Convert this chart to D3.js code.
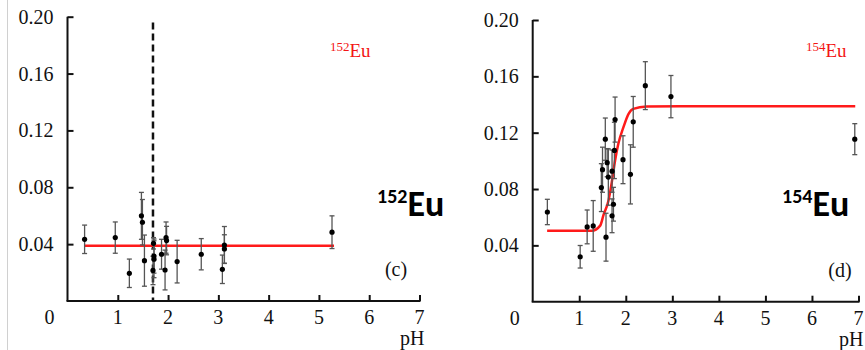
<!DOCTYPE html>
<html>
<head>
<meta charset="utf-8">
<script src="https://cdn.jsdelivr.net/npm/d3@7"></script>
<style>
    body { margin: 0; background: #fff; }
    svg { display: block; }
</style>
</head>
<body>
<svg id="chart" width="865" height="350"></svg>
<script>
// panel (c) 152Eu
let phC   = [0.34, 0.95, 1.23, 1.47, 1.49, 1.53, 1.71, 1.72, 1.72, 1.70, 1.87, 1.94, 1.96, 1.97, 2.18, 2.66, 3.08, 3.12, 3.12, 5.26];
let valC  = [0.0434, 0.0446, 0.0195, 0.0599, 0.0554, 0.0284, 0.0406, 0.0316, 0.0294, 0.0215, 0.0329, 0.0218, 0.0446, 0.0425, 0.0277, 0.0329, 0.0223, 0.0394, 0.0366, 0.0484];
let errC  = [0.0100, 0.0110, 0.0100, 0.0165, 0.0160, 0.0180, 0.0040, 0.0120, 0.0130, 0.0100, 0.0105, 0.0140, 0.0110, 0.0100, 0.0150, 0.0110, 0.0100, 0.0130, 0.0100, 0.0115];
let fitC_ph  = [0.34, 5.30];
let fitC_val = [0.0388, 0.0388];
let cutC_ph  = 1.70;

// panel (d) 154Eu
let phD   = [0.315, 1.02, 1.17, 1.30, 1.475, 1.50, 1.56, 1.575, 1.60, 1.625, 1.705, 1.705, 1.735, 1.755, 1.77, 1.94, 2.10, 2.16, 2.42, 2.97, 6.92];
let valD  = [0.0637, 0.0319, 0.0531, 0.0538, 0.0810, 0.0937, 0.1154, 0.0458, 0.0987, 0.0885, 0.0610, 0.0927, 0.0692, 0.1074, 0.1293, 0.1008, 0.0904, 0.1277, 0.1534, 0.1456, 0.1154];
let errD  = [0.0090, 0.0080, 0.0120, 0.0180, 0.0170, 0.0160, 0.0150, 0.0170, 0.0100, 0.0200, 0.0120, 0.0150, 0.0120, 0.0200, 0.0160, 0.0170, 0.0210, 0.0180, 0.0170, 0.0150, 0.0110];
let fitD_ph  = [0.31, 1.27, 1.45, 1.52, 1.63, 1.70, 1.77, 1.84, 1.95, 2.06, 2.16, 2.45, 3.17, 6.93];
let fitD_val = [0.0503, 0.0503, 0.0540, 0.0614, 0.0720, 0.0850, 0.1003, 0.1121, 0.1239, 0.1334, 0.1369, 0.1385, 0.1388, 0.1388];

let yTicks = [0.04, 0.08, 0.12, 0.16, 0.20];
let xTicks = [1, 2, 3, 4, 5, 6, 7];

const SERIF = 'Liberation Serif';
const BOLD = 'Carlito';

let svg = d3.select('#chart');

// faint page border on the left
svg.append('line')
    .attr('x1', 7.5).attr('x2', 7.5).attr('y1', 0).attr('y2', 350)
    .attr('stroke', '#d0d0d0').attr('stroke-width', 1);

function label(g, x, y, txt, anchor) {
    return g.append('text')
        .attr('x', x).attr('y', y)
        .attr('text-anchor', anchor || 'middle')
        .attr('font-family', SERIF).attr('font-size', 20)
        .attr('fill', '#111')
        .text(txt);
}

function drawPanel(p) {
    let x = d3.scaleLinear().domain([0, 7]).range(p.xRange);
    let y = d3.scaleLinear().domain([0, 0.2]).range(p.yRange);
    let g = svg.append('g');

    // axes, ticks point inward
    let yAxis = d3.axisRight(y).tickValues(yTicks).tickSize(6).tickFormat('');
    g.append('g').attr('transform', `translate(${x(0)},0)`).call(yAxis)
        .call(a => a.select('.domain').attr('d', `M0,${y(0.2)}V${y(0)}`));
    let xAxis = d3.axisTop(x).tickValues(xTicks).tickSize(6).tickFormat('');
    g.append('g').attr('transform', `translate(0,${y(0)})`).call(xAxis)
        .call(a => a.select('.domain').attr('d', `M${x(0) - 1},0H${x(7) + 1}`));
    g.selectAll('.domain, .tick line').attr('stroke', '#111').attr('stroke-width', 2);

    // tick labels
    yTicks.forEach(d => label(g, x(0) - 14, y(d) + 7, d.toFixed(2), 'end'));
    label(g, x(0) - 18, y(0) + 23, '0');
    xTicks.forEach(d => label(g, x(d), y(0) + 23, d));
    label(g, x(7) + 5, y(0) + 44, 'pH', 'end');
    label(g, p.tagX, y(0) - 25, p.tag);

    // red isotope label
    let red = g.append('text').attr('x', p.redX).attr('y', 57)
        .attr('font-family', SERIF).attr('fill', '#f31515');
    red.append('tspan').attr('font-size', 13).attr('dy', -6).text(p.iso);
    red.append('tspan').attr('font-size', 19).attr('dy', 6).text('Eu');

    // big bold label
    let big = g.append('text').attr('x', p.bigX).attr('y', 216)
        .attr('font-family', BOLD).attr('font-weight', 700).attr('fill', '#000');
    big.append('tspan').attr('font-size', 20).attr('dy', -13).text(p.iso);
    big.append('tspan').attr('font-size', 36).attr('dy', 13).text('Eu');

    if (p.cut !== undefined) {
        g.append('line')
            .attr('x1', x(p.cut)).attr('x2', x(p.cut))
            .attr('y1', y(0.196)).attr('y2', y(0))
            .attr('stroke', '#111').attr('stroke-width', 2.5)
            .attr('stroke-dasharray', '7,4');
    }

    // fit line
    let line = d3.line().x(d => x(d[0])).y(d => y(d[1])).curve(d3.curveMonotoneX);
    g.append('path').datum(d3.zip(p.fitPh, p.fitVal))
        .attr('d', line).attr('fill', 'none')
        .attr('stroke', '#ff1a1a').attr('stroke-width', 2.5);

    // error bars + points
    let pts = d3.range(p.ph.length).map(i => ({ph: p.ph[i], v: p.val[i], e: p.err[i]}));
    let eb = g.append('g').attr('stroke', '#555').attr('stroke-width', 1.3);
    pts.forEach(d => {
        let cx = x(d.ph), y1 = y(d.v + d.e), y2 = y(d.v - d.e);
        eb.append('line').attr('x1', cx).attr('x2', cx).attr('y1', y1).attr('y2', y2);
        eb.append('line').attr('x1', cx - 2.5).attr('x2', cx + 2.5).attr('y1', y1).attr('y2', y1);
        eb.append('line').attr('x1', cx - 2.5).attr('x2', cx + 2.5).attr('y1', y2).attr('y2', y2);
    });
    g.selectAll('circle').data(pts).join('circle')
        .attr('cx', d => x(d.ph)).attr('cy', d => y(d.v))
        .attr('r', 2.6).attr('fill', '#000');
}

drawPanel({xRange: [67.5, 419.5], yRange: [301, 16.7], ph: phC, val: valC, err: errC,
    fitPh: fitC_ph, fitVal: fitC_val, cut: cutC_ph, tag: '(c)', tagX: 396, iso: '152', redX: 330, bigX: 377});
drawPanel({xRange: [532.7, 858.5], yRange: [301.7, 20], ph: phD, val: valD, err: errD,
    fitPh: fitD_ph, fitVal: fitD_val, tag: '(d)', tagX: 840, iso: '154', redX: 806, bigX: 782});
</script>
</body>
</html>
